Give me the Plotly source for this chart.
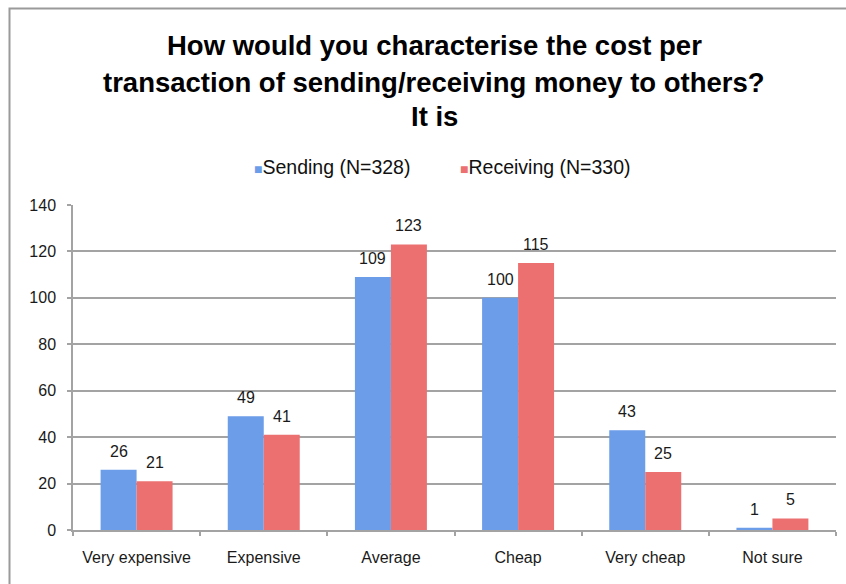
import plotly.graph_objects as go

# Survey answers
categories = ["Very expensive", "Expensive", "Average", "Cheap", "Very cheap", "Not sure"]
sending = [26, 49, 109, 100, 43, 1]
receiving = [21, 41, 123, 115, 25, 5]
series_names = ["Sending (N=328)", "Receiving (N=330)"]
title_lines = [
    "How would you characterise the cost per",
    "transaction of sending/receiving money to others?",
    "It is",
]

W, H = 846, 584
M = dict(l=73, r=10, t=205, b=54)
PW = W - M["l"] - M["r"]
PH = H - M["t"] - M["b"]
BARGAP = 0.434

BLUE = "#6b9de8"
RED = "#ec7070"
GRID = "#a3a3a3"
FONT = "Liberation Sans, Arial, sans-serif"


def px_to_paper_x(px):
    return (px - M["l"]) / PW


def px_to_paper_y(py):
    return (H - M["b"] - py) / PH


fig = go.Figure()
fig.add_trace(go.Bar(x=categories, y=sending, name=series_names[0],
                     marker=dict(color=BLUE, line=dict(width=0)), showlegend=False))
fig.add_trace(go.Bar(x=categories, y=receiving, name=series_names[1],
                     marker=dict(color=RED, line=dict(width=0)), showlegend=False))

annotations = []
# value labels above each bar
bar_w = PW / len(categories) * (1 - BARGAP) / 2
for vals, side in ((sending, -1), (receiving, 1)):
    for cat, v in zip(categories, vals):
        annotations.append(dict(
            x=cat, y=v, xref="x", yref="y", text=str(v), showarrow=False,
            xshift=side * bar_w / 2, yshift=8, yanchor="bottom",
            font=dict(family=FONT, size=16, color="#1a1a1a")))

# title, one annotation per line
for line, py in zip(title_lines, [45, 82, 117]):
    annotations.append(dict(
        x=px_to_paper_x(434), y=px_to_paper_y(py), xref="paper", yref="paper",
        text="<b>%s</b>" % line, showarrow=False, xanchor="center", yanchor="middle",
        font=dict(family=FONT, size=27.5, color="#000000")))

# legend row
for name, color, px in ((series_names[0], BLUE, 252), (series_names[1], RED, 458)):
    annotations.append(dict(
        x=px_to_paper_x(px), y=px_to_paper_y(167), xref="paper", yref="paper",
        text="<span style='color:%s;font-size:14px'>■</span>%s" % (color, name),
        showarrow=False, xanchor="left", yanchor="middle",
        font=dict(family=FONT, size=19.5, color="#111111")))

fig.update_layout(
    width=W, height=H, autosize=False,
    margin=dict(l=M["l"], r=M["r"], t=M["t"], b=M["b"], pad=0),
    paper_bgcolor="white", plot_bgcolor="white",
    barmode="group", bargap=BARGAP, bargroupgap=0,
    annotations=annotations,
    shapes=[dict(
        type="rect", xref="paper", yref="paper",
        x0=px_to_paper_x(9.5), x1=px_to_paper_x(W + 20),
        y0=px_to_paper_y(H + 20), y1=px_to_paper_y(8.5),
        line=dict(color="#9a9a9a", width=2), layer="below")],
    xaxis=dict(
        type="category", showline=True, linecolor=GRID, linewidth=1.5,
        ticks="outside", tickson="boundaries", ticklen=4, tickcolor=GRID, tickwidth=1.5,
        ticklabelstandoff=12, showgrid=False,
        tickfont=dict(family=FONT, size=16, color="#1a1a1a")),
    yaxis=dict(
        range=[0, 140], dtick=20, showline=True, linecolor=GRID, linewidth=1.5,
        ticks="outside", ticklen=4, tickcolor=GRID, tickwidth=1.5,
        ticklabelstandoff=8, showgrid=True, gridcolor=GRID, gridwidth=1.5,
        zeroline=False,
        tickfont=dict(family=FONT, size=16, color="#1a1a1a")),
)

fig.write_html("out.html")
